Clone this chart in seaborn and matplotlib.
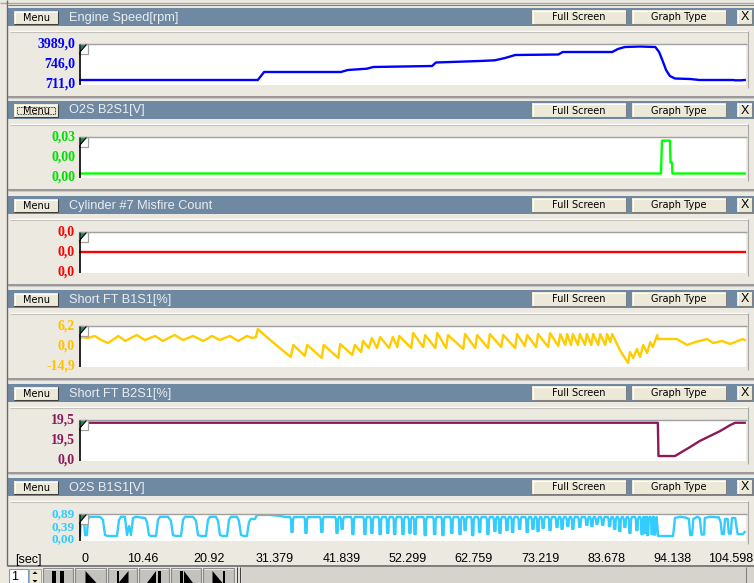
import matplotlib
matplotlib.use("Agg")
import matplotlib.pyplot as plt
from matplotlib.patches import Rectangle, Polygon
from matplotlib.transforms import ScaledTranslation
import seaborn as sns

# screen size in pixels
W, H = 754, 583

# ---------------- data ----------------
time_ticks = [0, 10.46, 20.92, 31.379, 41.839, 52.299, 62.759, 73.219, 83.678, 94.138, 104.598]
time_labels = ["0", "10.46", "20.92", "31.379", "41.839", "52.299", "62.759",
               "73.219", "83.678", "94.138", "104.598"]

# Engine Speed [rpm]
rpm_t = [0, 28.2, 29.2, 41.3, 42.4, 45.4, 46.4, 55.7, 56.3, 63.2, 65.6, 67.2, 68.8, 75.6, 76.3,
         84.1, 85.0, 86.1, 88.5, 90.9, 91.5, 92.0, 92.6, 93.2, 94.0, 96.4, 97.9, 103.2, 103.5,
         104.4, 105.0]
rpm_v = [711, 711, 1495, 1495, 1690, 1818, 1984, 2082, 2425, 2571, 2640, 2865, 3159, 3208, 3452,
         3452, 3746, 3942, 3991, 3942, 3452, 2670, 1690, 1103, 858, 809, 711, 711, 680,
         680, 711]

# O2S B2S1 [V]
o2b2_t = [0, 91.8, 91.85, 91.95, 93.2, 93.3, 93.55, 93.6, 105.0]
o2b2_v = [0, 0, 0.01, 0.03, 0.03, 0.01, 0.01, 0, 0]

# Cylinder #7 misfire count
misfire_t = [0, 105.0]
misfire_v = [0, 0]

# Short FT B1S1 [%]
stft1_t = [0, 0.5, 1.4, 2.5, 3.5, 4.6, 6.2, 7.3, 9.1, 10.4, 12.0, 13.2, 15.1, 16.4, 18.0, 19.6,
           21.0, 22.2, 23.8, 25.1, 26.5, 27.3, 27.9, 28.2, 28.9, 30.9, 33.4,
           33.8, 35.6, 36.0, 38.3, 38.6, 40.9, 41.2, 43.1, 43.5, 44.5, 44.8, 45.7, 46.2, 47.0,
           47.5, 48.9, 49.5, 50.2, 50.5, 52.4, 52.7, 54.3, 54.6, 56.2, 56.5, 57.9, 58.2, 60.6,
           60.9, 62.5, 62.8, 64.5, 64.8, 66.6, 66.9, 68.8, 69.1, 70.3, 70.7, 72.1, 72.4, 74.0,
           74.3, 75.6, 75.9, 76.7, 77.0, 77.6, 77.9, 78.7, 79.0, 79.8, 80.1, 80.8, 81.1, 81.9,
           82.2, 83.0, 83.3, 83.8, 84.1,
           85.3, 86.6, 86.9, 87.4, 88.0, 88.5, 89.0, 89.6, 90.1, 90.5, 91.2, 91.3, 94.3, 95.9,
           97.2, 99.1, 100.0, 101.4, 102.7, 104.7, 105.0]
stft1_v = [0.0, 1.2, 0.6, 1.9, -0.6, -2.5, 1.9, -1.2, 2.5, -0.6, 1.9, -1.2, 2.5, -0.6, 1.9, -1.2,
           1.9, -0.6, 1.9, -1.2, 1.9, 0.6, 1.2, 6.2, 3.7, -3.1, -11.2,
           -3.7, -10.5, -3.7, -11.8, -3.7, -11.8, -3.1, -9.9, -3.7, -8.1, -1.2, -5.6, 0.6, -5.6,
           1.2, -5.6, 1.2, -5.0, 1.9, -5.6, 3.7, -5.0, 2.5, -5.6, 3.7, -5.6, 2.5, -6.2,
           3.1, -5.6, 2.5, -5.6, 3.1, -5.0, 2.5, -5.6, 3.1, -4.3, 2.5, -5.0, 3.1, -5.0,
           3.7, -4.3, 3.1, -3.7, 3.1, -3.7, 3.1, -3.7, 3.1, -3.7, 3.1, -3.7, 3.1, -3.7,
           3.1, -3.7, 3.1, -1.9, 3.1,
           -6.8, -14.9, -8.1, -11.8, -6.2, -11.2, -3.7, -8.7, -1.9, -5.0, 2.5, 0.0, 0.0, -3.7,
           -1.9, 0.0, -2.5, -1.2, -3.1, 0.0, -0.6]

# Short FT B2S1 [%]
stft2_t = [0, 91.3, 91.4, 94.0, 94.8, 96.4, 97.9, 99.5, 101.1, 102.7, 103.5, 105.0]
stft2_v = [19.5, 19.5, 0.0, 0.0, 1.8, 5.3, 8.8, 11.7, 14.6, 18.1, 19.5, 19.5]

# O2S B1S1 [V]: switching part, rich plateau, short lean dips, end part
o2b1_start_t = [0, 0.16, 0.32, 0.79, 0.95, 1.26, 1.42, 1.73, 3.31, 3.78, 4.10, 4.57, 5.99, 6.31,
                6.62, 7.25, 7.57, 7.89, 8.20, 8.52, 8.99, 10.41, 10.72, 11.04, 11.35, 12.14,
                12.46, 12.77, 14.04, 14.51, 14.82, 15.30, 16.09, 16.40, 16.72, 17.98, 18.45,
                18.77, 19.24, 20.03, 20.34, 20.66, 21.60, 21.92, 22.24, 22.71, 23.34, 23.66,
                23.97, 24.92, 25.23, 25.55, 26.02, 26.49, 26.81, 27.12, 27.76, 28.07,
                30.1, 31.7, 32.6]
o2b1_start_v = [0.25, 0.0, 0.76, 0.76, 0.04, 0.04, 0.72, 0.81, 0.81, 0.68, 0.04, 0.0, 0.0, 0.68,
                0.81, 0.81, 0.04, 0.42, 0.04, 0.76, 0.81, 0.76, 0.59, 0.04, 0.0, 0.0,
                0.68, 0.81, 0.81, 0.64, 0.04, 0.0, 0.0, 0.68, 0.81, 0.81, 0.64,
                0.04, 0.0, 0.0, 0.68, 0.81, 0.81, 0.64, 0.04, 0.0, 0.0, 0.68,
                0.81, 0.81, 0.64, 0.04, 0.0, 0.0, 0.59, 0.72, 0.72, 0.89,
                0.89, 0.85, 0.80]
o2b1_dip_t = [33.6, 35.8, 38.3, 40.7, 41.5, 43.2, 45.1, 46.2, 47.5, 48.7, 49.8, 51.1, 52.2, 53.0,
              54.6, 56.1, 57.4, 58.8, 60.1, 60.9, 62.1, 63.2, 64.5, 65.6, 66.4, 67.5, 68.4, 69.5,
              70.7, 71.6, 72.4, 73.2, 74.3, 75.4, 76.2, 77.1, 77.9, 79.0, 80.1, 80.9, 81.7, 82.6,
              83.7, 84.5, 85.3, 86.1, 86.9, 88.0, 88.8, 89.3, 89.7, 90.4, 90.8]
o2b1_dip_v = [0.17, 0.13, 0.17, 0.13, 0.30, 0.08, 0.08, 0.13, 0.08, 0.13, 0.08, 0.08, 0.13, 0.08,
              0.04, 0.08, 0.04, 0.13, 0.08, 0.25, 0.04, 0.17, 0.08, 0.21, 0.13, 0.25, 0.17, 0.30,
              0.17, 0.30, 0.21, 0.34, 0.25, 0.38, 0.30, 0.42, 0.30, 0.38, 0.47, 0.42, 0.51, 0.47,
              0.42, 0.30, 0.21, 0.38, 0.13, 0.25, 0.08, 0.13, 0.04, 0.08, 0.06]
o2b1_high = 0.80
o2b1_end_t = [91.1, 91.35, 93.7, 94.0, 94.8, 95.7, 96.2, 96.4, 96.7, 96.9, 97.5, 97.9, 98.2, 98.6,
              98.7, 99.5, 100.9, 101.2, 101.4, 101.7, 101.9, 102.3, 102.5, 102.8, 103.0, 103.5,
              103.8, 103.9, 104.7, 105.0]
o2b1_end_v = [0.80, 0.0, 0.0, 0.76, 0.81, 0.78, 0.72, 0.04, 0.04, 0.72, 0.81, 0.76, 0.06, 0.06,
              0.76, 0.81, 0.79, 0.60, 0.08, 0.08, 0.72, 0.72, 0.10, 0.10, 0.76, 0.76,
              0.21, 0.08, 0.08, 0.17]

# each lean dip: rounded shoulder, steep fall, short bottom, steep rise, rounded top
o2b1_t, o2b1_v = list(o2b1_start_t), list(o2b1_start_v)
for t, v in zip(o2b1_dip_t, o2b1_dip_v):
    o2b1_t += [t - 0.3, t - 0.16, t - 0.1, t + 0.1, t + 0.16, t + 0.3]
    o2b1_v += [o2b1_high, o2b1_high - 0.1, v, v, o2b1_high - 0.12, o2b1_high]
o2b1_t += o2b1_end_t
o2b1_v += o2b1_end_v

panels = [
    dict(title="Engine Speed[rpm]", color="#0000FF", lab_color="#0000FF",
         labels=("3989,0", "746,0", "711,0"), t=rpm_t, v=rpm_v, ylim=(222, 4285)),
    dict(title="O2S B2S1[V]", color="#00FF00", lab_color="#00E000",
         labels=("0,03", "0,00", "0,00"), t=o2b2_t, v=o2b2_v, ylim=(-0.0041, 0.0338)),
    dict(title="Cylinder #7 Misfire Count", color="#FF0000", lab_color="#FF0000",
         labels=("0,0", "0,0", "0,0"), t=misfire_t, v=misfire_v, ylim=(-1, 1)),
    dict(title="Short FT B1S1[%]", color="#FFCC00", lab_color="#FFC000",
         labels=("6,2", "0,0", "-14,9"), t=stft1_t, v=stft1_v, ylim=(-17.4, 8.4)),
    dict(title="Short FT B2S1[%]", color="#8B1A5C", lab_color="#8B1A5C",
         labels=("19,5", "19,5", "0,0"), t=stft2_t, v=stft2_v, ylim=(-2.9, 21.4)),
    dict(title="O2S B1S1[V]", color="#33CCFF", lab_color="#33CCFF",
         labels=("0,89", "0,39", "0,00"), t=o2b1_t, v=o2b1_v, ylim=(-0.21, 0.95)),
]
panel_tops = [8, 101, 196, 290, 384, 478]

# ---------------- layout / style ----------------
BG = "#ECE9E1"
HEADER = "#7089A2"
PLOT_L, PLOT_R = 79, 746
T_MAX = (PLOT_R - PLOT_L) / 6.34

fig = plt.figure(figsize=(W / 100, H / 100), dpi=100, facecolor=BG)
bg = fig.add_axes([0, 0, 1, 1], zorder=0)
bg.set_xlim(0, W)
bg.set_ylim(H, 0)
bg.axis("off")
fg = fig.add_axes([0, 0, 1, 1], zorder=10)
fg.set_xlim(0, W)
fg.set_ylim(H, 0)
fg.axis("off")


def hline(ax, y, x0, x1, color, lw=0.75):
    ax.plot([x0, x1], [y, y], color=color, lw=lw, solid_capstyle="butt")


def vline(ax, x, y0, y1, color, lw=0.75):
    ax.plot([x, x], [y0, y1], color=color, lw=lw, solid_capstyle="butt")


def button(x0, y0, x1, y1, label, dark="#808080", focus=False, **kw):
    bg.add_patch(Rectangle((x0, y0), x1 - x0, y1 - y0, facecolor="#ECE9D8", edgecolor="none"))
    hline(bg, y0 + 0.5, x0, x1, "white")
    vline(bg, x0 + 0.5, y0, y1, "white")
    hline(bg, y1 - 0.5, x0, x1, dark)
    vline(bg, x1 - 0.5, y0, y1, dark)
    if focus:
        bg.add_patch(Rectangle((x0 + 3, y0 + 3), x1 - x0 - 6, y1 - y0 - 6, facecolor="none",
                               edgecolor="black", lw=0.6, ls=(0, (1, 1))))
    style = dict(fontsize=7, family="DejaVu Sans", color="black")
    style.update(kw)
    bg.text((x0 + x1) / 2, (y0 + y1) / 2 + 0.5, label, ha="center", va="center", **style)


# window edges
hline(bg, 2.5, 0, W, "#A8A8A8", lw=1.0)
hline(bg, 4.5, 8, W, "#808080", lw=0.8)
vline(bg, 7.3, 0, 566, "#6A6A6A", lw=1.0)

axes = []
for i, (p, top) in enumerate(zip(panels, panel_tops)):
    last = i == len(panels) - 1
    bottom = top + (63 if last else 77)

    # header bar with buttons
    bg.add_patch(Rectangle((8, top), W - 8, 18, facecolor=HEADER, edgecolor="none"))
    button(14, top + 3, 58, top + 16, "Menu", dark="#404040", focus=(i == 1))
    bg.text(69, top + 9.5, p["title"], ha="left", va="center", fontsize=9.2,
            family="Liberation Sans", color="#E9EEF3")
    button(532, top + 2, 626, top + 16, "Full Screen")
    button(632, top + 2, 726, top + 16, "Graph Type")
    button(737, top + 2, 752, top + 16, "X", fontsize=9, family="Liberation Sans")

    # sunken frame around the graph
    hline(bg, top + 22.5, 10, 748, "white", lw=1.0)
    hline(bg, top + 23.5, 10, 748, "#C4C2BC", lw=0.8)
    vline(bg, 747.5, top + 23, bottom + 3, "#A8A8A8", lw=0.8)
    if not last:
        hline(bg, top + 88.5, 8, W, "#8A8A8A", lw=1.2)
        hline(bg, top + 90, 8, W, "#C8C8C8", lw=0.8)

    # graph
    ax = fig.add_axes([PLOT_L / W, 1 - bottom / H, (PLOT_R - PLOT_L) / W,
                       (bottom - top - 35.5) / H], zorder=2)
    ax.set_facecolor("white")
    sns.lineplot(x=p["t"], y=p["v"], ax=ax, color=p["color"], lw=1.7,
                 estimator=None, sort=False, legend=False)
    ax.set_xlim(0, T_MAX)
    ax.set_ylim(*p["ylim"])
    ax.set(xlabel="", ylabel="")
    for s in ax.spines.values():
        s.set_visible(False)
    ax.set_yticks([])
    ax.set_xticks([])
    axes.append(ax)

    # frame lines and cursor marker
    hline(fg, top + 35.5, PLOT_L, PLOT_R + 1, "#A0A0A0", lw=1.0)
    vline(fg, PLOT_L + 0.5, top + 44, bottom, "black", lw=1.2)
    fg.add_patch(Rectangle((PLOT_L, top + 36), 8.5, 9.5, facecolor="white",
                           edgecolor="#A0A0A0", lw=0.9))
    fg.add_patch(Polygon([(PLOT_L + 1, top + 37), (PLOT_L + 7, top + 37), (PLOT_L + 1, top + 44)],
                         closed=True, facecolor="#1B8A50", edgecolor="none"))
    fg.plot([PLOT_L + 7, PLOT_L + 1, PLOT_L + 1], [top + 37, top + 44, top + 37],
            color="black", lw=0.8)

    # min / current / max readouts
    if last:
        ys = [top + 36.5, top + 49, top + 61.5]
        fs = 9.5
    else:
        ys = [top + 36.5, top + 56.5, top + 76]
        fs = 10
    for txt, y in zip(p["labels"], ys):
        bg.text(75, y, txt, ha="right", va="center", fontsize=fs, fontweight="bold",
                family="Liberation Serif", color=p["lab_color"])

# time axis under the last graph
ax = axes[-1]
ax.set_xticks(time_ticks)
ax.set_xticklabels(time_labels, fontsize=9, family="Liberation Sans")
ax.tick_params(axis="x", length=0, pad=9)
for k, lab in enumerate(ax.get_xticklabels()):
    if k == 0:
        dx = 6
    elif k == len(time_ticks) - 1:
        dx = -12
    else:
        dx = -3
    lab.set_transform(lab.get_transform() + ScaledTranslation(dx / 100, 0, fig.dpi_scale_trans))
bg.text(15, 560, "[sec]", ha="left", va="center", fontsize=9, family="Liberation Sans")

# playback toolbar
hline(bg, 565.5, 8, W, "#6A6A6A", lw=1.2)
bg.add_patch(Rectangle((242, 567), W - 242, 16, facecolor="#D6D3CC", edgecolor="none"))
vline(bg, 745.5, 567, H, "#808080")
bg.add_patch(Rectangle((9, 569), 19, 14, facecolor="white", edgecolor="#7F9DB9", lw=0.8))
bg.text(15, 577, "1", ha="center", va="center", fontsize=9, family="Liberation Sans")
bg.add_patch(Rectangle((29, 569), 12, 14, facecolor="#ECE9D8", edgecolor="#A0A0A0", lw=0.6))
bg.add_patch(Polygon([(32.5, 574), (37.5, 574), (35, 571.5)], facecolor="black"))
bg.add_patch(Polygon([(32.5, 580), (37.5, 580), (35, 582.5)], facecolor="black"))

btns = [(43, 73), (75, 106), (108, 137), (139, 169), (171, 201), (203, 234)]
for x0, x1 in btns:
    bg.add_patch(Rectangle((x0, 567.5), x1 - x0, 16, facecolor="#C4C2BE", edgecolor="#8A8A8A", lw=0.8))
    hline(bg, 568.5, x0 + 1, x1 - 1, "#E8E8E8")
cx = [(a + b) / 2 for a, b in btns]
ys0, ys1 = 571, 586
# pause
bg.add_patch(Rectangle((cx[0] - 6, ys0), 4, ys1 - ys0, facecolor="black"))
bg.add_patch(Rectangle((cx[0] + 2, ys0), 4, ys1 - ys0, facecolor="black"))
# play
bg.add_patch(Polygon([(cx[1] - 5, ys0), (cx[1] - 5, ys1 + 4), (cx[1] + 6, ys1 - 3)], facecolor="black"))
# first
bg.add_patch(Rectangle((cx[2] - 6, ys0), 2.5, ys1 - ys0, facecolor="black"))
bg.add_patch(Polygon([(cx[2] + 6, ys0), (cx[2] + 6, ys1 + 4), (cx[2] - 4, ys1 - 3)], facecolor="black"))
# previous
bg.add_patch(Polygon([(cx[3] + 2, ys0), (cx[3] + 2, ys1 + 4), (cx[3] - 7, ys1 - 3)], facecolor="black"))
bg.add_patch(Rectangle((cx[3] + 4, ys0), 2.5, ys1 - ys0, facecolor="black"))
# next
bg.add_patch(Rectangle((cx[4] - 6, ys0), 2.5, ys1 - ys0, facecolor="black"))
bg.add_patch(Polygon([(cx[4] - 2, ys0), (cx[4] - 2, ys1 + 4), (cx[4] + 7, ys1 - 3)], facecolor="black"))
# last
bg.add_patch(Polygon([(cx[5] - 6, ys0), (cx[5] - 6, ys1 + 4), (cx[5] + 4, ys1 - 3)], facecolor="black"))
bg.add_patch(Rectangle((cx[5] + 4, ys0), 2.5, ys1 - ys0, facecolor="black"))
vline(bg, 236.5, 567, H, "#404040", lw=0.8)
vline(bg, 239.5, 567, H, "#404040", lw=0.8)

fig.savefig("out.png", dpi=100, facecolor=BG)
